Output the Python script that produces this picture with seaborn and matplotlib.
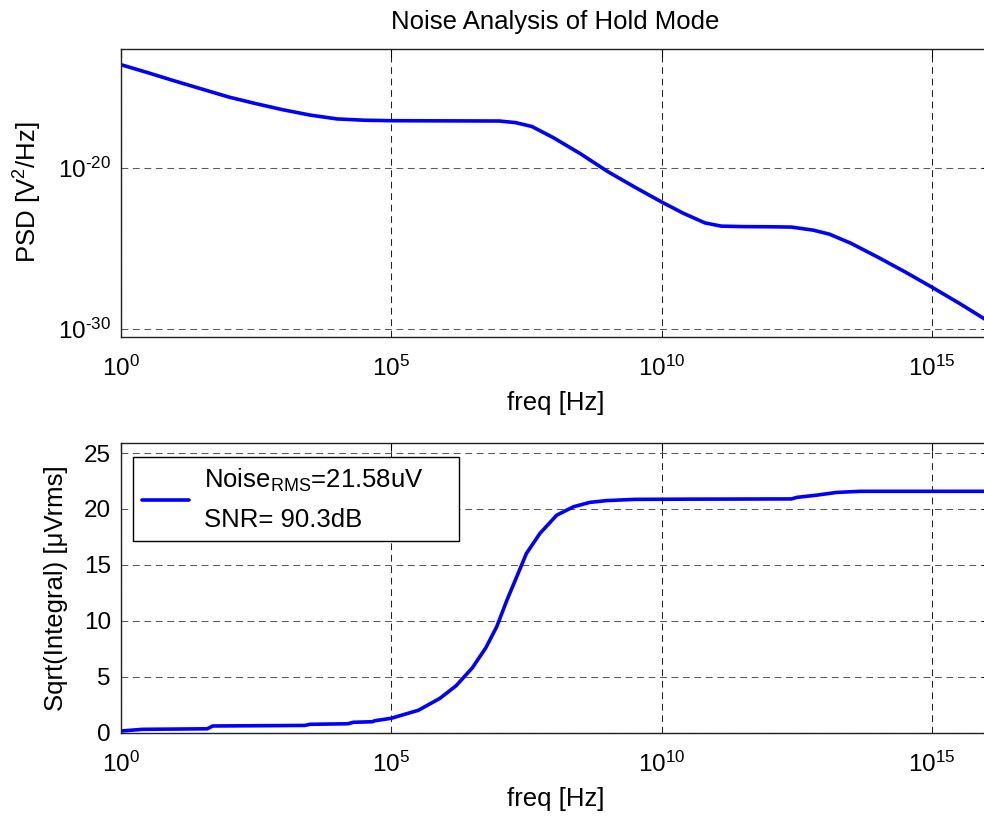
import numpy as np
import pandas as pd
import matplotlib
matplotlib.use("Agg")
import matplotlib.pyplot as plt
import matplotlib.ticker as mticker
import seaborn as sns

# Power spectral density, read per decade: log10(freq) and log10(PSD)
psd_freq_exp = [0.0, 0.5, 1.0, 1.5, 2.0, 2.5, 3.0, 3.5, 4.0, 4.5, 5.0, 6.0,
                7.0, 7.3, 7.6, 8.0, 8.5, 9.0, 9.5, 10.0, 10.4, 10.8, 11.1,
                11.5, 12.0, 12.4, 12.8, 13.1, 13.5, 14.0, 14.5, 15.0, 15.5, 16.1]
psd_exp = [-13.55, -14.05, -14.57, -15.07, -15.57, -15.98, -16.36, -16.69,
           -16.93, -17.01, -17.04, -17.05, -17.06, -17.16, -17.40, -18.10,
           -19.10, -20.20, -21.17, -22.10, -22.80, -23.40, -23.60, -23.63,
           -23.64, -23.66, -23.85, -24.10, -24.67, -25.54, -26.45, -27.41,
           -28.40, -29.65]

# Running sqrt of the integrated PSD [uVrms]
rms_freq_exp = [0.0, 0.4, 1.6, 1.7, 3.4, 3.5, 4.2, 4.3, 4.65, 4.7, 5.0, 5.5,
                5.9, 6.2, 6.5, 6.75, 6.95, 7.14, 7.32, 7.5, 7.75, 8.06, 8.37,
                8.67, 8.98, 9.5, 10.5, 12.4, 12.5, 12.87, 13.23, 13.67, 16.1]
rms_uv = [0.15, 0.30, 0.35, 0.60, 0.65, 0.75, 0.80, 0.93, 0.98, 1.07, 1.29,
          2.00, 3.07, 4.20, 5.80, 7.60, 9.47, 11.86, 13.94, 16.03, 17.82,
          19.45, 20.20, 20.59, 20.75, 20.86, 20.88, 20.90, 21.04, 21.24,
          21.48, 21.58, 21.58]

noise_rms = 21.58
snr_db = 90.3

x_ticks = [1e0, 1e5, 1e10, 1e15]
psd_ticks = [1e-30, 1e-20]
rms_ticks = [0, 5, 10, 15, 20, 25]

psd_df = pd.DataFrame({"freq": 10.0 ** np.array(psd_freq_exp),
                       "psd": 10.0 ** np.array(psd_exp)})
rms_df = pd.DataFrame({"freq": 10.0 ** np.array(rms_freq_exp),
                       "rms": rms_uv})

sns.set_theme(style="white")
plt.rcParams["font.family"] = ["Liberation Sans", "DejaVu Sans"]
plt.rcParams["mathtext.fontset"] = "custom"
plt.rcParams["mathtext.rm"] = "Liberation Sans"
plt.rcParams["mathtext.it"] = "Liberation Sans:italic"
plt.rcParams["mathtext.bf"] = "Liberation Sans:bold"
plt.rcParams["mathtext.default"] = "regular"
plt.rcParams["axes.unicode_minus"] = False
plt.rcParams["text.color"] = "black"
plt.rcParams["axes.labelcolor"] = "black"
plt.rcParams["xtick.color"] = "black"
plt.rcParams["ytick.color"] = "black"

TICK_FS = 17.5
LABEL_FS = 18.5
LINE_BLUE = "#0000ff"


def decade_label(value, pos):
    """Power-of-ten label with a plain hyphen for negative exponents."""
    exp = int(round(np.log10(value)))
    return r"$10^{\text{%d}}$" % exp


fig = plt.figure(figsize=(9.84, 8.18), dpi=100)
W, H = 984.0, 818.0
left_px, right_px = 120.7, 990.0
ax_w = right_px - left_px
ax1 = fig.add_axes([left_px / W, 1 - 336.7 / H, ax_w / W, (336.7 - 48.7) / H])
ax2 = fig.add_axes([left_px / W, 1 - 732.7 / H, ax_w / W, (732.7 - 443.0) / H])

xmax = 10 ** (ax_w / 54.1)

sns.lineplot(data=psd_df, x="freq", y="psd", ax=ax1, color=LINE_BLUE,
             linewidth=2.6, legend=False)
legend_text = "Noise$_{RMS}$=%.2fuV\nSNR= %.1fdB" % (noise_rms, snr_db)
sns.lineplot(data=rms_df, x="freq", y="rms", ax=ax2, color=LINE_BLUE,
             linewidth=2.6, label=legend_text)

for ax in (ax1, ax2):
    ax.set_xscale("log")
    ax.set_xlim(1, xmax)
    ax.set_xticks(x_ticks)
    ax.xaxis.set_major_formatter(mticker.FuncFormatter(decade_label))
    ax.xaxis.set_minor_locator(mticker.NullLocator())
    ax.tick_params(axis="both", which="major", direction="in", length=6,
                   width=0.8, color="black", top=True, right=True,
                   labelsize=TICK_FS, labelcolor="black")
    ax.tick_params(axis="x", pad=14)
    ax.tick_params(axis="y", pad=7)
    for s in ax.spines.values():
        s.set_color("#202020")
        s.set_linewidth(1.0)
    ax.spines["right"].set_visible(False)
    ax.xaxis.grid(True, color="#222222", linestyle=(0, (6.5, 4.5)), linewidth=0.75)
    ax.yaxis.grid(True, color="#5a5a5a", linestyle=(0, (6.5, 4.5)), linewidth=0.75)
    ax.set_axisbelow(True)
    ax.set_xlabel("freq [Hz]", fontsize=LABEL_FS, labelpad=7)

ax1.set_yscale("log")
ax1.set_ylim(10 ** -30.48, 10 ** -12.56)
ax1.set_yticks(psd_ticks)
ax1.yaxis.set_major_formatter(mticker.FuncFormatter(decade_label))
ax1.yaxis.set_minor_locator(mticker.NullLocator())
ax1.set_ylabel("PSD [V$^2$/Hz]", fontsize=LABEL_FS)
ax1.yaxis.set_label_coords((44 - left_px) / ax_w, 0.5)
ax1.set_title("Noise Analysis of Hold Mode", fontsize=LABEL_FS, pad=14)

ax2.set_ylim(0, 25.9)
ax2.set_yticks(rms_ticks)
ax2.set_ylabel("Sqrt(Integral) [μVrms]", fontsize=LABEL_FS)
ax2.yaxis.set_label_coords((68.5 - left_px) / ax_w, 0.5)

ax2_h = 732.7 - 443.0
leg_w, leg_h = 326.0 / ax_w, 85.4 / ax2_h
leg_x, leg_top = 12.0 / ax_w, 1 - 14.3 / ax2_h
leg = ax2.legend(loc="upper left", mode="expand",
                 bbox_to_anchor=(leg_x, leg_top - leg_h, leg_w, leg_h),
                 borderaxespad=0, fontsize=LABEL_FS, frameon=True,
                 fancybox=False, edgecolor="black", framealpha=1,
                 handlelength=1.8, handletextpad=0.6, borderpad=0.38)
leg.get_frame().set_linewidth(1.0)
for t in leg.get_texts():
    t.set_linespacing(1.7)

fig.savefig("out.png", dpi=100)
